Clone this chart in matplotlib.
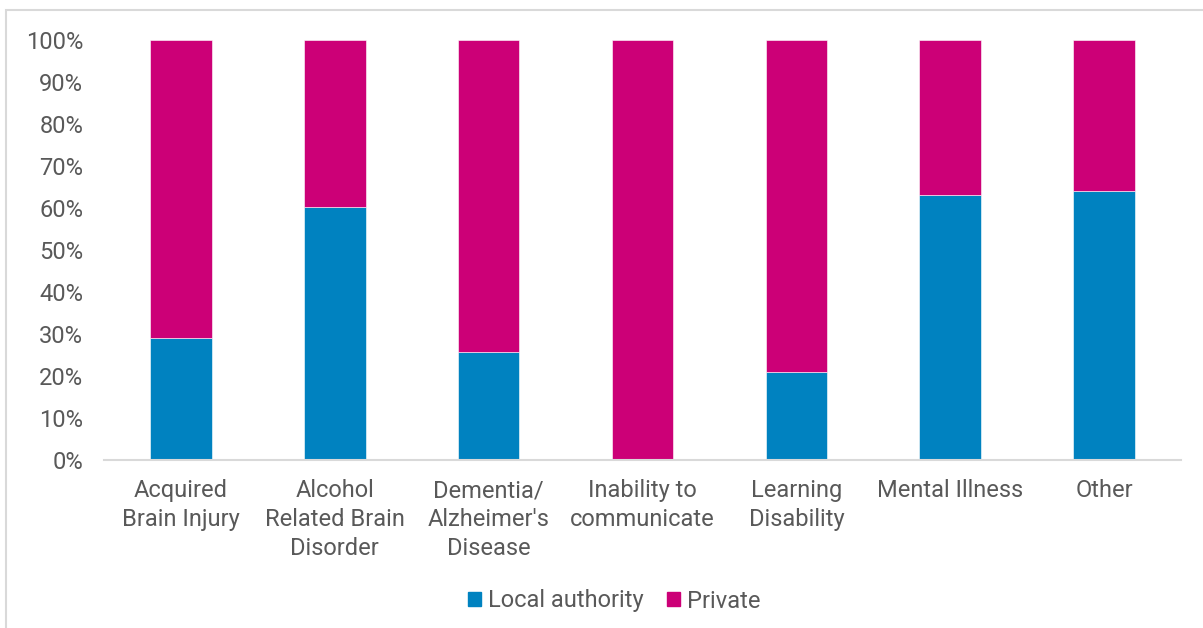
import matplotlib
matplotlib.use('Agg')
import matplotlib.pyplot as plt
from matplotlib.patches import Rectangle, Patch
from matplotlib.ticker import PercentFormatter
import numpy as np

plt.rcParams['font.family'] = ['Roboto', 'DejaVu Sans']

categories = ['Acquired\nBrain Injury', 'Alcohol\nRelated Brain\nDisorder',
              'Dementia/\nAlzheimer\'s\nDisease', 'Inability to\ncommunicate',
              'Learning\nDisability', 'Mental Illness', 'Other']
local_authority = [29.0, 60.2, 25.6, 0.0, 20.9, 63.1, 64.0]
private = [100 - v for v in local_authority]

blue = '#0082C0'
magenta = '#CC0077'
text_grey = '#595959'
line_grey = '#D9D9D9'

W, H = 1203, 628
fig = plt.figure(figsize=(W / 100, H / 100), dpi=100)

# light border round the chart area
fig.patches.append(Rectangle((6 / W, -0.1), 1.2, (H - 10) / H + 0.1,
                             transform=fig.transFigure, fill=False,
                             edgecolor=line_grey, linewidth=1.5))

ax = fig.add_axes([104 / W, (H - 460) / H, (1181 - 104) / W, 420 / H])

x = np.arange(len(categories))
ax.bar(x, local_authority, width=0.4, color=blue, edgecolor='white', linewidth=0.4)
ax.bar(x, private, width=0.4, bottom=local_authority, color=magenta,
       edgecolor='white', linewidth=0.4)

ax.set_xlim(-0.5, len(categories) - 0.5)
ax.set_ylim(0, 100)
ax.set_yticks(np.arange(0, 101, 10))
ax.yaxis.set_major_formatter(PercentFormatter(decimals=0))
ax.set_xticks(x)
ax.set_xticklabels(categories, linespacing=1.32)

for s in ['top', 'right', 'left']:
    ax.spines[s].set_visible(False)
ax.spines['bottom'].set_color(line_grey)
ax.spines['bottom'].set_linewidth(1.5)

ax.tick_params(axis='y', length=0, pad=15, labelsize=17, labelcolor=text_grey)
ax.tick_params(axis='x', length=0, pad=14, labelsize=17, labelcolor=text_grey)

handles = [Patch(color=blue, label='Local authority'),
           Patch(color=magenta, label='Private')]
fig.legend(handles=handles, loc='center', bbox_to_anchor=(614 / W, (H - 601) / H),
           ncol=2, frameon=False, fontsize=17, labelcolor=text_grey,
           handlelength=0.55, handleheight=0.55, handletextpad=0.3, columnspacing=1.0)

fig.savefig('out.png', dpi=100)
